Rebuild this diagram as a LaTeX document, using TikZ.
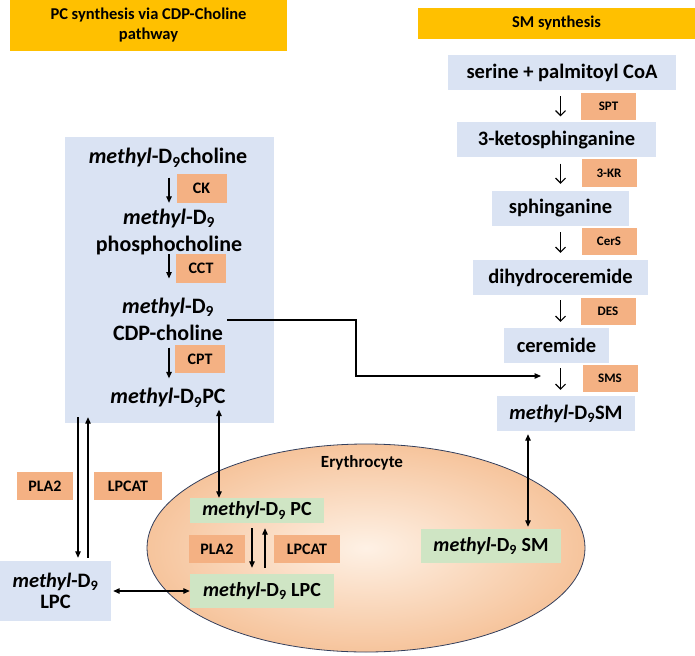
\documentclass[tikz,border=0pt]{standalone}
\usepackage{fontspec}
\setmainfont{Carlito}
\usetikzlibrary{arrows.meta}
\definecolor{hdrorange}{RGB}{255,192,0}
\definecolor{enzorange}{RGB}{244,177,131}
\definecolor{boxblue}{RGB}{218,227,243}
\definecolor{boxgreen}{RGB}{207,229,196}
\definecolor{cellin}{RGB}{254,241,229}
\definecolor{cellout}{RGB}{246,196,156}
\definecolor{cellrim}{RGB}{50,62,92}
\newcommand{\mDnine}{\textit{methyl}-D\textsubscript{9}}

\begin{document}
\begin{tikzpicture}[x=1pt, y=-1pt,
    header/.style={fill=hdrorange, font=\fontsize{16.5}{20}\selectfont\bfseries, align=center, inner sep=0},
    chem/.style={font=\fontsize{20.5}{27}\selectfont\bfseries, align=center, inner sep=0},
    pcchem/.style={chem, font=\fontsize{22}{27}\selectfont\bfseries},
    bluebox/.style={chem, fill=boxblue, minimum height=35pt},
    greenbox/.style={chem, font=\fontsize{20}{24}\selectfont\bfseries, fill=boxgreen, minimum height=34pt},
    enz/.style={fill=enzorange, font=\fontsize{16}{18}\selectfont\bfseries, inner sep=0, minimum width=50pt, minimum height=29pt},
    smenz/.style={enz, font=\fontsize{13}{15}\selectfont\bfseries, minimum width=55pt, minimum height=27pt},
    pcarrow/.style={line width=1.2pt, -{Triangle[length=6.5pt,width=5.5pt]}},
    twoway/.style={line width=1.2pt, {Triangle[length=6.5pt,width=5.5pt]}-{Triangle[length=6.5pt,width=5.5pt]}},
    smarrow/.style={line width=1.1pt, -{Straight Barb[length=5pt,width=10pt]}}
  ]
  \useasboundingbox (0,0) rectangle (695,655);

  % titles
  \node[header, minimum width=277pt, minimum height=51pt] (pchead) at (148.5,25.5) {PC synthesis via CDP-Choline\\pathway};
  \node[header, minimum width=277pt, minimum height=31pt] (smhead) at (556.5,23.5) {SM synthesis};

  % erythrocyte
  \draw[cellrim, line width=0.8pt, inner color=cellin, outer color=cellout] (366,548) ellipse [x radius=219, y radius=104];
  \node[chem, font=\fontsize{17}{20}\selectfont\bfseries] (ery) at (362,463) {Erythrocyte};

  % CDP-choline pathway
  \node[fill=boxblue, minimum width=209pt, minimum height=286pt, inner sep=0] (pcbox) at (169.5,280) {};
  \node[pcchem] (choline) at (168,158) {\mDnine choline};
  \node[pcchem] (phospho) at (169,232) {\mDnine\\phosphocholine};
  \node[pcchem] (cdp) at (168,319) {\mDnine\\CDP-choline};
  \node[pcchem] (pc) at (168,398) {\mDnine PC};

  \node[enz] (ck) at (201.5,188) {CK};
  \node[enz] (cct) at (201,268) {CCT};
  \node[enz, minimum height=28pt] (cpt) at (200,359) {CPT};

  \coordinate (colx) at (169,0);
  \draw[pcarrow, shorten <=10pt, shorten >=6pt] (choline.south -| colx) -- (phospho.north -| colx);
  \draw[pcarrow, shorten <=-1pt, shorten >=19pt] (phospho.south -| colx) -- (cdp.north -| colx);
  \draw[pcarrow, shorten <=7pt, shorten >=10pt] (cdp.south -| colx) -- (pc.north -| colx);

  % lyso-PC outside and inside the cell
  \node[chem, fill=boxblue, font=\fontsize{20.5}{21}\selectfont\bfseries, minimum width=111pt, minimum height=60pt] (lpc) at (55.5,591) {\mDnine\\LPC};
  \node[enz, minimum width=56pt, minimum height=28pt] (pla) at (45,486) {PLA2};
  \node[enz, minimum width=68pt, minimum height=28pt] (lpcat) at (128,486) {LPCAT};
  \coordinate (lpcdown) at (78,0);
  \coordinate (lpcup) at (88,0);
  \draw[pcarrow, shorten <=-6pt, shorten >=3pt] (pcbox.south -| lpcdown) -- (lpc.north -| lpcdown);
  \draw[pcarrow, shorten <=3pt, shorten >=-6pt] (lpc.north -| lpcup) -- (pcbox.south -| lpcup);

  \node[greenbox, minimum width=134pt, minimum height=25pt] (gpc) at (257,510.5) {\mDnine\ PC};
  \node[greenbox, minimum width=144pt] (glpc) at (262,591) {\mDnine\ LPC};
  \node[enz, minimum width=56pt, minimum height=28pt] (rbcpla) at (217,549) {PLA2};
  \node[enz, minimum width=66pt, minimum height=28pt] (rbclpcat) at (307,549) {LPCAT};
  \coordinate (rbcdown) at (252,0);
  \coordinate (rbcup) at (265,0);
  \draw[pcarrow, shorten <=5pt, shorten >=6pt] (gpc.south -| rbcdown) -- (glpc.north -| rbcdown);
  \draw[pcarrow, shorten <=6pt, shorten >=5pt] (glpc.north -| rbcup) -- (gpc.south -| rbcup);

  \coordinate (pcdrop) at (219,0);
  \draw[twoway, shorten <=2pt] (pc.south -| pcdrop) -- (gpc.north -| pcdrop);
  \draw[twoway, shorten <=2pt] (lpc.east) -- (glpc.west);

  % sphingomyelin pathway
  \node[bluebox, minimum width=228pt] (serine) at (562,72.5) {serine + palmitoyl CoA};
  \node[bluebox, minimum width=199pt] (keto) at (556.5,140) {3-ketosphinganine};
  \node[bluebox, minimum width=137pt] (sphing) at (560.5,208.5) {sphinganine};
  \node[bluebox, minimum width=175pt] (dihydro) at (560.5,277.5) {dihydroceremide};
  \node[bluebox, minimum width=105pt] (cer) at (556.5,345.5) {ceremide};
  \node[bluebox, minimum width=138pt] (sm) at (566,413.5) {\mDnine SM};

  \node[smenz] (spt) at (608.5,106.5) {SPT};
  \node[smenz] (kr) at (609,173) {3-KR};
  \node[smenz] (cers) at (609,241.5) {CerS};
  \node[smenz] (des) at (608,311.5) {DES};
  \node[smenz] (sms) at (610,378.5) {SMS};

  \coordinate (smx) at (560.5,0);
  \draw[smarrow, shorten <=6pt, shorten >=6pt] (serine.south -| smx) -- (keto.north -| smx);
  \draw[smarrow, shorten <=6pt, shorten >=7pt] (keto.south -| smx) -- (sphing.north -| smx);
  \draw[smarrow, shorten <=6pt, shorten >=7pt] (sphing.south -| smx) -- (dihydro.north -| smx);
  \draw[smarrow, shorten <=5pt, shorten >=6pt] (dihydro.south -| smx) -- (cer.north -| smx);
  \draw[smarrow, shorten <=5pt, shorten >=6pt] (cer.south -| smx) -- (sm.north -| smx);

  \node[greenbox, minimum width=140pt] (gsm) at (491,546) {\mDnine\ SM};
  \coordinate (smdrop) at (528,0);
  \draw[twoway, shorten <=3pt, shorten >=2pt] (sm.south -| smdrop) -- (gsm.north -| smdrop);

  % CDP-choline feeds the SMS step
  \coordinate (kink) at (356,320);
  \coordinate (smsin) at (541,376);
  \draw[pcarrow, shorten <=4pt] (cdp.east |- kink) -- (kink) -- (kink |- smsin) -- (smsin);
\end{tikzpicture}
\end{document}
